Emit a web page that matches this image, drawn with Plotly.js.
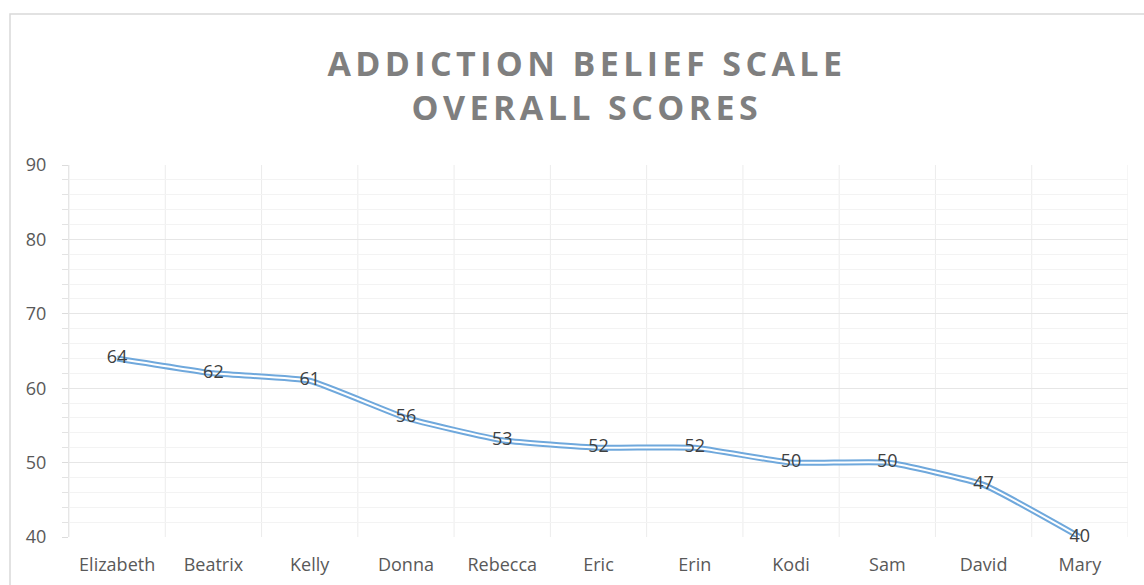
<!DOCTYPE html>
<html>
<head>
<meta charset="utf-8">
<script src="https://cdn.plot.ly/plotly-3.0.1.min.js"></script>
<style>
  body { margin: 0; background: #fff; }
  #chart { width: 1144px; height: 585px; }
  .gtitle { letter-spacing: 4.4px; }
</style>
</head>
<body>
<div id="chart"></div>
<script>
// names and overall scores
const names = ["Elizabeth", "Beatrix", "Kelly", "Donna", "Rebecca", "Eric", "Erin", "Kodi", "Sam", "David", "Mary"];
const scores = [64, 62, 61, 56, 53, 52, 52, 50, 50, 47, 40];
const yTicks = [40, 50, 60, 70, 80, 90];

const blue = "#6fa8dc";
const font = "'Open Sans', 'DejaVu Sans', sans-serif";

// Excel style double line: wide blue stroke with a thin white stroke on top
let outer = {
    x: names,
    y: scores,
    type: 'scatter',
    mode: 'lines',
    line: { color: blue, width: 6, shape: 'spline', smoothing: 0.4 },
    hoverinfo: 'skip',
    showlegend: false
};
let inner = {
    x: names,
    y: scores,
    type: 'scatter',
    mode: 'lines+text',
    line: { color: '#ffffff', width: 2, shape: 'spline', smoothing: 0.4 },
    text: scores.map(String),
    textposition: 'middle center',
    textfont: { family: font, size: 18, color: '#404040' },
    cliponaxis: false,
    showlegend: false
};

// plot area left 69, right 1128, top 165, bottom 537
const pw = 1128 - 69, ph = 537 - 165;

var layout = {
    width: 1144,
    height: 585,
    margin: { l: 69, r: 16, t: 165, b: 48 },
    paper_bgcolor: '#ffffff',
    plot_bgcolor: '#ffffff',
    font: { family: font, color: '#595959' },
    title: {
        text: 'ADDICTION BELIEF SCALE<br>OVERALL SCORES',
        font: { family: font, size: 34, color: '#7f7f7f', weight: 'bold' },
        x: 0.513,
        xanchor: 'center',
        y: 0.87,
        yanchor: 'top'
    },
    xaxis: {
        type: 'category',
        range: [-0.5, names.length - 0.5],
        showgrid: false,
        showline: false,
        zeroline: false,
        ticks: '',
        tickfont: { family: font, size: 18, color: '#595959' },
        ticklabelstandoff: 15,
        fixedrange: true
    },
    yaxis: {
        range: [40, 90],
        tickvals: yTicks,
        ticktext: yTicks.map(String),
        showgrid: true,
        gridcolor: '#e6e6e6',
        gridwidth: 1,
        zeroline: false,
        showline: true,
        linecolor: '#e6e6e6',
        ticks: 'outside',
        ticklen: 6,
        tickcolor: '#dcdcdc',
        tickfont: { family: font, size: 18, color: '#595959' },
        ticklabelstandoff: 12,
        minor: {
            dtick: 2,
            showgrid: true,
            gridcolor: '#f3f3f3',
            ticks: 'outside',
            ticklen: 6,
            tickcolor: '#e3e3e3'
        },
        fixedrange: true
    },
    shapes: []
};

// vertical gridlines between categories
for (let i = 0; i <= names.length; i++) {
    layout.shapes.push({
        type: 'line', xref: 'x', yref: 'paper',
        x0: i - 0.5, x1: i - 0.5, y0: 0, y1: 1,
        line: { color: '#ececec', width: 1 },
        layer: 'below'
    });
}
// outer chart border
layout.shapes.push({
    type: 'rect', xref: 'paper', yref: 'paper',
    x0: (10 - 69) / pw, x1: (1150 - 69) / pw,
    y0: (537 - 600) / ph, y1: (537 - 14) / ph,
    line: { color: '#d9d9d9', width: 1.5 },
    fillcolor: 'rgba(0,0,0,0)',
    layer: 'below'
});

Plotly.newPlot('chart', [outer, inner], layout, { displayModeBar: false, staticPlot: true });
</script>
</body>
</html>
